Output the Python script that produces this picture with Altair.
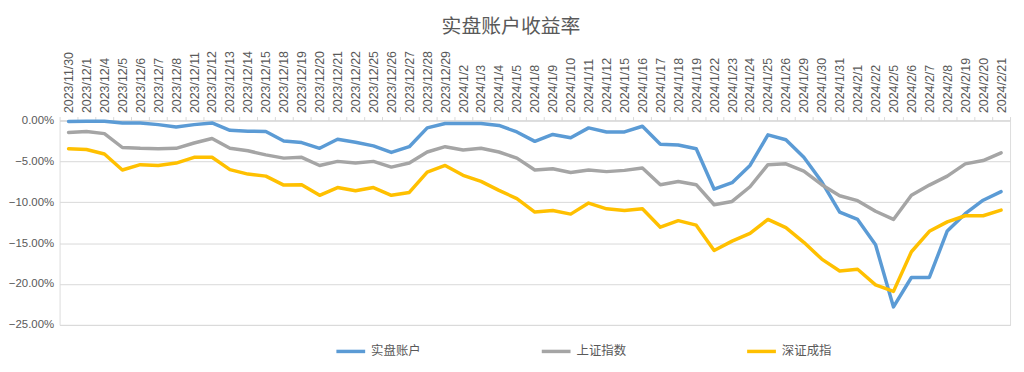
import altair as alt
import pandas as pd

dates = [
    "2023/11/30", "2023/12/1", "2023/12/4", "2023/12/5", "2023/12/6", "2023/12/7", "2023/12/8",
    "2023/12/11", "2023/12/12", "2023/12/13", "2023/12/14", "2023/12/15", "2023/12/18", "2023/12/19",
    "2023/12/20", "2023/12/21", "2023/12/22", "2023/12/25", "2023/12/26", "2023/12/27", "2023/12/28",
    "2023/12/29", "2024/1/2", "2024/1/3", "2024/1/4", "2024/1/5", "2024/1/8", "2024/1/9", "2024/1/10",
    "2024/1/11", "2024/1/12", "2024/1/15", "2024/1/16", "2024/1/17", "2024/1/18", "2024/1/19",
    "2024/1/22", "2024/1/23", "2024/1/24", "2024/1/25", "2024/1/26", "2024/1/29", "2024/1/30",
    "2024/1/31", "2024/2/1", "2024/2/2", "2024/2/5", "2024/2/6", "2024/2/7", "2024/2/8",
    "2024/2/19", "2024/2/20", "2024/2/21",
]

account = [
    -0.12, -0.1, -0.1, -0.3, -0.3, -0.5, -0.8, -0.5, -0.3, -1.2, -1.3, -1.35, -2.5, -2.7,
    -3.4, -2.3, -2.65, -3.1, -3.9, -3.2, -0.9, -0.37, -0.37, -0.37, -0.6, -1.4, -2.55, -1.7,
    -2.1, -0.9, -1.4, -1.4, -0.7, -2.9, -3.0, -3.45, -8.4, -7.6, -5.5, -1.75, -2.35, -4.5,
    -7.5, -11.2, -12.1, -15.2, -22.8, -19.2, -19.2, -13.5, -11.4, -9.75, -8.7,
]

shanghai = [
    -1.46, -1.34, -1.6, -3.3, -3.4, -3.45, -3.4, -2.75, -2.2, -3.4, -3.7, -4.2, -4.6, -4.5,
    -5.5, -5.0, -5.2, -5.0, -5.7, -5.2, -3.85, -3.2, -3.6, -3.4, -3.85, -4.6, -6.05, -5.9,
    -6.35, -6.05, -6.25, -6.1, -5.8, -7.85, -7.45, -7.85, -10.3, -9.9, -8.1, -5.4, -5.3, -6.2,
    -7.85, -9.2, -9.8, -11.1, -12.1, -9.15, -7.9, -6.8, -5.3, -4.9, -3.95,
]

shenzhen = [
    -3.45, -3.55, -4.1, -6.05, -5.4, -5.5, -5.2, -4.5, -4.5, -6.0, -6.55, -6.8, -7.9, -7.85,
    -9.15, -8.2, -8.6, -8.2, -9.15, -8.8, -6.3, -5.5, -6.7, -7.45, -8.55, -9.55, -11.2, -11.0,
    -11.45, -10.1, -10.8, -11.0, -10.8, -13.05, -12.25, -12.8, -15.9, -14.75, -13.8, -12.1,
    -13.1, -14.9, -16.95, -18.4, -18.2, -20.1, -20.9, -16.05, -13.55, -12.4, -11.65, -11.65, -10.95,
]

series_names = ["实盘账户", "上证指数", "深证成指"]
series_colors = ["#5B9BD5", "#A5A5A5", "#FFC000"]
y_ticks = [0, -5, -10, -15, -20, -25]

rows = []
for name, vals in zip(series_names, [account, shanghai, shenzhen]):
    for i, (d, v) in enumerate(zip(dates, vals)):
        rows.append({"date": d, "value": v, "series": name, "order": i})
df = pd.DataFrame(rows)

FONT = "Liberation Sans"
CJK = "Noto Sans CJK SC"
GRAY = "#595959"

chart = (
    alt.Chart(df)
    .mark_line(strokeWidth=3.5, strokeJoin="round", strokeCap="round")
    .encode(
        x=alt.X(
            "date:N",
            sort=dates,
            bandPosition=0.5,
            scale=alt.Scale(type="band", paddingInner=0, paddingOuter=0),
            axis=alt.Axis(
                orient="top",
                title=None,
                labelAngle=-90,
                labelFont=FONT,
                labelFontSize=12.5,
                labelColor=GRAY,
                labelPadding=4,
                tickBand="extent",
                tickSize=4,
                tickColor="#D9D9D9",
                domainColor="#D9D9D9",
                grid=False,
                labelOverlap=False,
            ),
        ),
        y=alt.Y(
            "value:Q",
            scale=alt.Scale(domain=[-25, 0], nice=False, zero=False),
            axis=alt.Axis(
                title=None,
                values=y_ticks,
                labelExpr="format(datum.value, '.2f') + '%'",
                labelFont=FONT,
                labelFontSize=11.5,
                labelColor=GRAY,
                labelPadding=6,
                ticks=False,
                domain=False,
                gridColor="#D9D9D9",
                gridWidth=1,
            ),
        ),
        color=alt.Color(
            "series:N",
            sort=series_names,
            scale=alt.Scale(domain=series_names, range=series_colors),
            legend=alt.Legend(
                title=None,
                orient="none",
                direction="horizontal",
                legendX=277,
                legendY=216,
                symbolType="stroke",
                symbolSize=841,
                symbolStrokeWidth=3.5,
                labelFont=CJK,
                labelFontSize=12.5,
                labelColor=GRAY,
                labelOffset=4,
                columnPadding=114,
            ),
        ),
        order=alt.Order("order:Q"),
    )
    .properties(
        width=958,
        height=206,
        title=alt.TitleParams(
            "实盘账户收益率",
            font=CJK,
            fontSize=20,
            fontWeight="normal",
            color=GRAY,
            anchor="middle",
            dx=-24,
            offset=14,
        ),
        autosize=alt.AutoSizeParams(type="none"),
        padding={"left": 52, "top": 112, "right": 6, "bottom": 38},
    )
    .configure_view(stroke=None)
    .configure(background="white")
)

chart.save("out.html", embed_options={"renderer": "svg", "actions": False})
